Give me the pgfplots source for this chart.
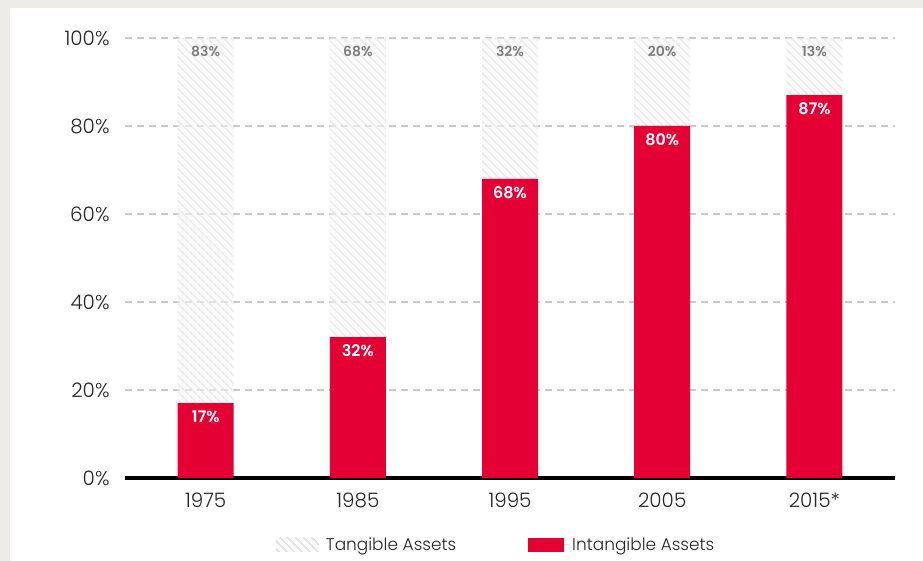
\documentclass[border=0pt]{standalone}
\usepackage{pgfplots}
\pgfplotsset{compat=1.18}
\usepackage{fontspec}
\IfFontExistsTF{Poppins Light}{\setmainfont{Poppins Light}[BoldFont={Poppins SemiBold}]}{\setmainfont{Poppins}}
\usetikzlibrary{patterns.meta}
\definecolor{redbar}{RGB}{229,0,52}
\definecolor{beige}{RGB}{237,236,232}
\definecolor{hatchbg}{RGB}{247,247,247}
\definecolor{hatchln}{RGB}{226,226,226}
\definecolor{lblgray}{RGB}{125,125,125}
\begin{document}
\begin{tikzpicture}[x=1bp,y=1bp]
\fill[beige] (0,0) rectangle (923,561);
\fill[white] (10,0) rectangle (923,553);
\begin{axis}[
  at={(125bp,83bp)}, anchor=south west,
  scale only axis, width=770bp, height=440bp,
  xmin=-0.53, xmax=4.53, ymin=0, ymax=100,
  ybar stacked, bar width=56bp,
  axis x line*=bottom, axis y line*=left,
  x axis line style={black, line width=4bp},
  y axis line style={draw=none},
  tick style={draw=none}, major tick length=0pt,
  ytick={0,20,...,100},
  yticklabel={\pgfmathprintnumber{\tick}\%},
  /pgf/number format/assume math mode=true,
  yticklabel style={font=\fontsize{20}{20}\selectfont, xshift=-12bp, text=black!85},
  xtick={0,...,4}, xticklabels={1975,1985,1995,2005,2015*},
  xticklabel style={font=\fontsize{20}{20}\selectfont, yshift=-11bp, text=black!85},
  ymajorgrids, grid style={gray!42, line width=1.2bp, dash pattern=on 7bp off 5bp},
  reverse legend,
  legend style={at={(axis description cs:0.482,-0.152)}, anchor=center, draw=none, fill=none,
    legend columns=2, font=\fontsize{17}{17}\selectfont, text=black!85,
    /tikz/every even column/.append style={column sep=70bp}},
]
\addplot[fill=redbar, draw=none,
  legend image code/.code={\fill[redbar] (0bp,-7bp) rectangle (36bp,7bp); \path (0bp,0bp) -- (42bp,0bp);}]
  coordinates {(0,17) (1,32) (2,68) (3,80) (4,87)};
\addlegendentry{Intangible Assets}
\addplot[fill=hatchbg, fill opacity=0.55, draw=none,
  postaction={pattern={Lines[angle=-45, distance=6bp, line width=2.2bp]}, pattern color=hatchln},
  legend image code/.code={\fill[hatchbg] (0bp,-7bp) rectangle (43bp,7bp); \fill[pattern={Lines[angle=-45, distance=6bp, line width=2.2bp]}, pattern color=hatchln] (0bp,-7bp) rectangle (43bp,7bp); \path (0bp,0bp) -- (48bp,0bp);}]
  coordinates {(0,83) (1,68) (2,32) (3,20) (4,13)};
\addlegendentry{Tangible Assets}
\end{axis}
\begin{axis}[
  at={(125bp,83bp)}, anchor=south west,
  scale only axis, width=770bp, height=440bp,
  xmin=-0.53, xmax=4.53, ymin=0, ymax=100,
  hide axis,
  point meta=explicit symbolic,
  nodes near coords={\pgfplotspointmeta\%},
]
\addplot[draw=none, mark=none,
  nodes near coords style={anchor=north, yshift=-4bp, text=white, font=\fontsize{16}{16}\selectfont\bfseries}]
  coordinates {(0,17) [17] (1,32) [32] (2,68) [68] (3,80) [80] (4,87) [87]};
\addplot[draw=none, mark=none,
  nodes near coords style={anchor=north, yshift=-5bp, text=lblgray, font=\fontsize{14}{14}\selectfont\bfseries}]
  coordinates {(0,100) [83] (1,100) [68] (2,100) [32] (3,100) [20] (4,100) [13]};
\end{axis}
\end{tikzpicture}
\end{document}
